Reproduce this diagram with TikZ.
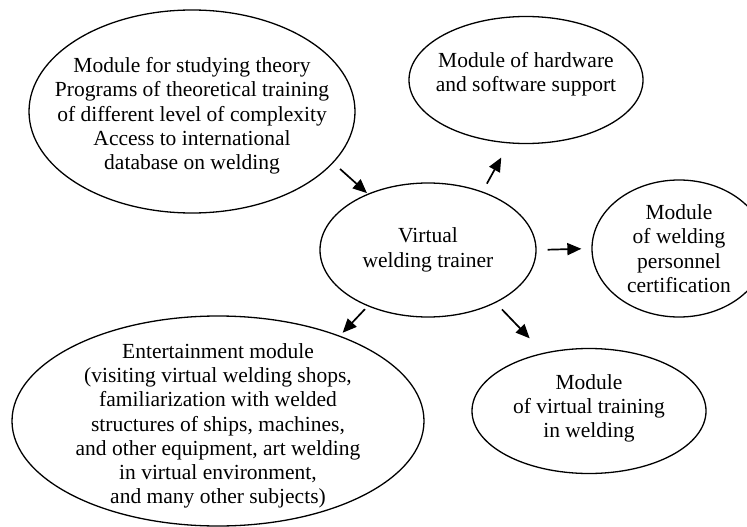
\documentclass[tikz,border=0pt]{standalone}
\usepackage{fontspec}
\setmainfont{Liberation Serif}
\usetikzlibrary{arrows.meta,shapes.geometric}

\begin{document}
\begin{tikzpicture}[x=1pt,y=-1pt,
    module/.style={draw,ellipse,line width=1.3pt,align=center,inner sep=-40pt,
      font=\fontsize{21.5}{24.3}\selectfont},
    link/.style={-{Triangle[length=14pt,width=12pt]},line width=1.7pt}]

        \useasboundingbox (0,0) rectangle (747,527);
        \clip (0,0) rectangle (747,527);

        % modules round the trainer
        \node[module,minimum width=326pt,minimum height=203pt,text height=121pt]
          (theory) at (192,111.5)
          {Module for studying theory\\Programs of theoretical training\\
           of different level of complexity\\Access to international\\
           database on welding};

        \node[module,minimum width=234pt,minimum height=127pt,text depth=16pt]
          (hardware) at (526,80)
          {Module of hardware\\and software support};

        \node[module,minimum width=216pt,minimum height=134pt]
          (trainer) at (428,250)
          {Virtual\\welding trainer};

        \node[module,minimum width=174pt,minimum height=137pt]
          (certif) at (679,248.5)
          {Module\\of welding\\personnel\\certification};

        \node[module,minimum width=412pt,minimum height=210pt,text height=170.5pt]
          (leisure) at (218,421)
          {Entertainment module\\(visiting virtual welding shops,\\
           familiarization with welded\\structures of ships, machines,\\
           and other equipment, art welding\\in virtual environment,\\
           and many other subjects)};

        \node[module,minimum width=234pt,minimum height=125pt,text depth=10pt]
          (vtrain) at (589,411)
          {Module\\of virtual training\\in welding};

        % short arrows between the ellipses
        \draw[link,shorten <=9pt,shorten >=1pt] (theory.-20) -- (trainer.137);
        \draw[link,shorten <=9pt,shorten >=16pt] (trainer.47) -- (hardware.-105);
        \draw[link,shorten <=11pt,shorten >=10pt] (trainer.east) -- (certif.west);
        \draw[link,shorten <=4pt,shorten >=4pt] (trainer.-137) -- (leisure.35);
        \draw[link,shorten <=9pt,shorten >=20pt] (trainer.-38) -- (vtrain.128);

      \end{tikzpicture}
\end{document}
